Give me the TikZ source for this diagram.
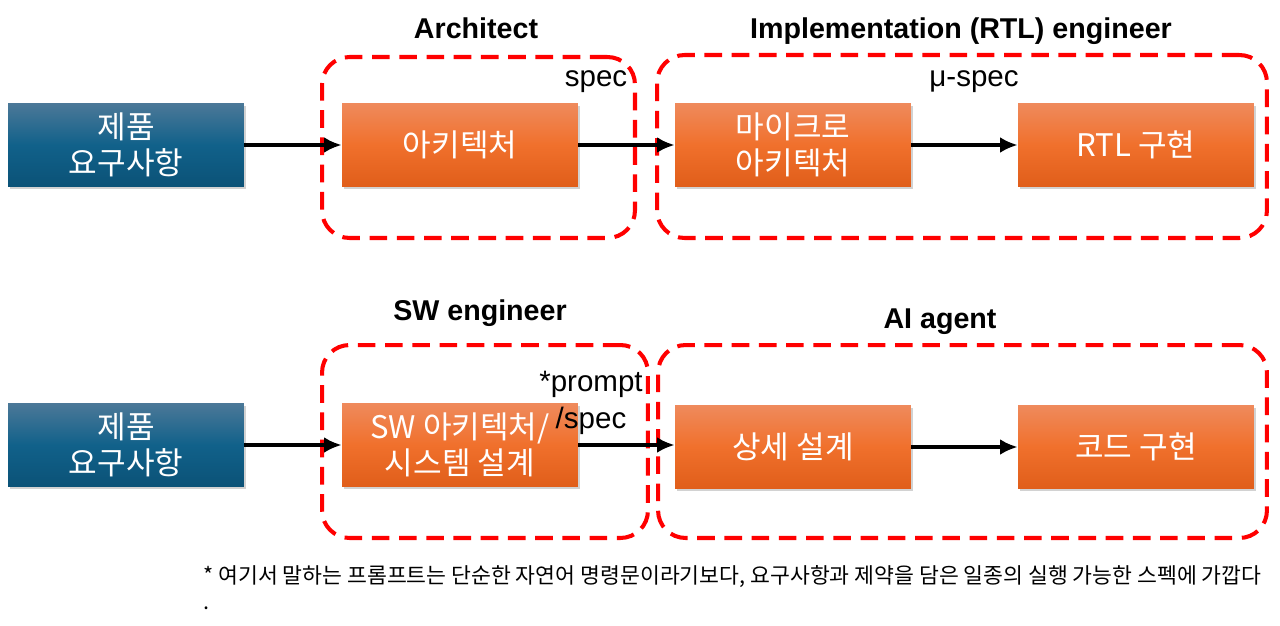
\documentclass[tikz,border=0pt]{standalone}
\usepackage{fontspec}
\setmainfont{Liberation Sans}
\newfontfamily\kofont{Noto Sans CJK KR}
\usepackage{tikz}
\usetikzlibrary{
  arrows.meta,
  shadows
}
\definecolor{reqTop}{HTML}{4B7898}
\definecolor{reqMid}{HTML}{11618A}
\definecolor{reqBottom}{HTML}{0B5277}
\definecolor{taskTop}{HTML}{EF8A5C}
\definecolor{taskMid}{HTML}{F0702C}
\definecolor{taskBottom}{HTML}{E05E1A}
\colorlet{roleLine}{red}
\tikzset{
  box/.style={minimum width=4.72cm,minimum height=1.66cm,align=center,text=white,
    font=\kofont\fontsize{17.7}{20.5}\selectfont,inner sep=0pt,
    drop shadow={opacity=0.35,shadow xshift=0.04cm,shadow yshift=-0.05cm}},
  reqBox/.style={box,top color=reqTop,bottom color=reqBottom,middle color=reqMid},
  taskBox/.style={box,top color=taskTop,bottom color=taskBottom,middle color=taskMid},
  roleGroup/.style={draw=roleLine,line width=2.3pt,dash pattern=on 10pt off 5.5pt,
    rounded corners=0.55cm,inner sep=0pt},
  roleTitle/.style={font=\bfseries\fontsize{16.3}{18}\selectfont,inner sep=0pt},
  flowNote/.style={font=\fontsize{16.8}{21}\selectfont,inner sep=0pt,align=center},
  flow/.style={-{Latex[length=10pt,width=9pt]},line width=2.4pt},
}

\begin{document}
\begin{tikzpicture}[x=0.02cm,y=-0.02cm]
\useasboundingbox[fill=white] (0,0) rectangle (1280,625);

% hardware flow
\node[roleGroup,minimum width=6.26cm,minimum height=3.62cm] (archGroup) at (478.5,147.5) {};
\node[roleGroup,minimum width=12.2cm,minimum height=3.66cm] (rtlGroup) at (962,146.5) {};
\node[roleTitle] (archTitle) at (476,28) {Architect};
\node[roleTitle] (rtlTitle) at (961,31) {Implementation (RTL) engineer};

\node[reqBox] (hwReq) at (126,145) {제품\\요구사항};
\node[taskBox] (arch) at (460,145) {아키텍처};
\node[taskBox] (uarch) at (793,145) {마이크로\\아키텍처};
\node[taskBox] (rtl) at (1136,145) {RTL 구현};

\draw[flow] (hwReq) -- (arch);
\draw[flow] (arch) -- (uarch);
\draw[flow] (uarch) -- (rtl);
\node[flowNote] (specNote) at (596,82) {spec};
\node[flowNote] (uspecNote) at (974,82) {μ-spec};

% software flow
\node[roleGroup,minimum width=6.52cm,minimum height=3.86cm] (swGroup) at (485,441.5) {};
\node[roleGroup,minimum width=12.18cm,minimum height=3.86cm] (aiGroup) at (962.5,441.5) {};
\node[roleTitle] (swTitle) at (480,313) {SW engineer};
\node[roleTitle] (aiTitle) at (940,322) {AI agent};

\node[reqBox] (swReq) at (126,445) {제품\\요구사항};
\node[taskBox] (swArch) at (460,445) {SW 아키텍처/\\시스템 설계};
\node[taskBox] (detail) at (793,447) {상세 설계};
\node[taskBox] (code) at (1136,447) {코드 구현};

\draw[flow] (swReq) -- (swArch);
\draw[flow] (swArch.east) -- (detail.west|-swArch.east);
\draw[flow] (detail) -- (code);
\node[flowNote] (promptNote) at (591,403) {*prompt\\/spec};

\node[anchor=north west,inner sep=0pt,align=left,font=\kofont\fontsize{12.3}{15}\selectfont]
  (footNote) at (203,565) {* 여기서 말하는 프롬프트는 단순한 자연어 명령문이라기보다, 요구사항과 제약을 담은 일종의 실행 가능한 스펙에 가깝다\\.};
\end{tikzpicture}
\end{document}
